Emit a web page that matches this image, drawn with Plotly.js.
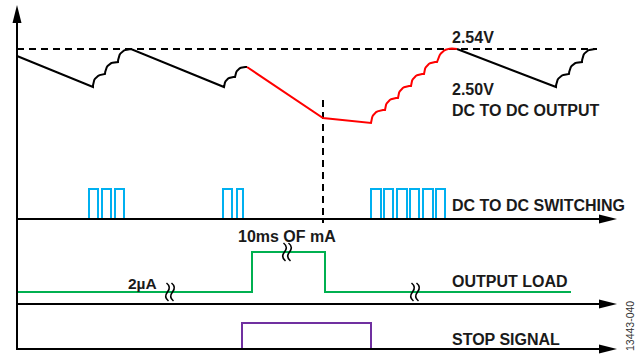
<!DOCTYPE html>
<html><head><meta charset="utf-8">
<script src="https://cdn.plot.ly/plotly-3.0.1.min.js"></script>
<style>html,body{margin:0;padding:0;background:#fff}#chart{width:641px;height:354px}</style>
</head><body><div id="chart"></div>
<script>
// ---- Diagram data (time on x, lane level on y; units = diagram units) ----
// DC-DC output waveform, black part 1 (arc=1 => scalloped recharge segment ending at that vertex)
const outA_t = [17, 93, 105, 118, 131, 224, 235, 247];
const outA_v = [56, 87, 74, 62, 49, 87, 77, 67];
const outA_arc = [0, 0, 1, 1, 1, 0, 1, 1];
// red part (during stop / load)
const outB_t = [247, 323, 371, 385, 398, 411, 424, 437, 457];
const outB_v = [67, 118, 123, 110, 98, 86, 74, 62, 49];
const outB_arc = [0, 0, 0, 1, 1, 1, 1, 1, 1];
// black part 2
const outC_t = [457, 556, 569, 582, 595];
const outC_v = [49, 87, 74, 62, 49];
const outC_arc = [0, 0, 1, 1, 1];
// 2.54V reference level
const refLevel = 49;
// DC-DC switching pulses
const pulseStart = [89, 102, 115, 223, 237, 371, 384, 397, 410, 423, 436];
const pulseEnd   = [98, 111, 124, 232, 243, 381, 393, 407, 419, 433, 445];
const pulseLow = 219, pulseHigh = 189;
// Output load
const load_t = [17, 252, 252, 325, 325, 571];
const load_v = [292, 292, 252, 252, 292, 292];
// Stop signal
const stop_t = [242, 242, 371, 371];
const stop_v = [349, 323, 323, 349];
// Event marker
const eventT = 323;
// Baselines of lanes
const laneBase = [219, 304, 349];
// Labels
const labels = ["2.54V", "2.50V", "DC TO DC OUTPUT", "DC TO DC SWITCHING", "OUTPUT LOAD", "STOP SIGNAL"];
const labelY = [37.5, 89.5, 110.5, 205, 281.5, 339];
const loadLabels = ["10ms OF mA", "2µA"];

// ---- helpers (drawing style only) ----
function scallop(ts, vs, arcs) {
  const X = [ts[0]], Y = [vs[0]];
  for (let i = 1; i < ts.length; i++) {
    if (!arcs[i]) { X.push(ts[i]); Y.push(vs[i]); continue; }
    const x0 = ts[i-1], y0 = vs[i-1], x1 = ts[i], y1 = vs[i];
    const dx = x1 - x0, dy = y1 - y0, L = Math.hypot(dx, dy);
    let nx = dy / L, ny = -dx / L; // up-left normal (y axis reversed)
    const s = 0.24 * L;
    const cx = (x0 + x1) / 2 + nx * 2 * s, cy = (y0 + y1) / 2 + ny * 2 * s;
    for (let k = 1; k <= 12; k++) {
      const u = k / 12;
      X.push((1-u)*(1-u)*x0 + 2*u*(1-u)*cx + u*u*x1);
      Y.push((1-u)*(1-u)*y0 + 2*u*(1-u)*cy + u*u*y1);
    }
  }
  return [X, Y];
}
const A = scallop(outA_t, outA_v, outA_arc);
const B = scallop(outB_t, outB_v, outB_arc);
const C = scallop(outC_t, outC_v, outC_arc);
const px = [], py = [];
pulseStart.forEach((s, i) => {
  px.push(s, s, pulseEnd[i], pulseEnd[i], null);
  py.push(pulseLow, pulseHigh, pulseHigh, pulseLow, null);
});

const F = "Liberation Sans, Arial, sans-serif";
const traces = [
  {x: A[0], y: A[1], mode: 'lines', line: {color: '#000', width: 2}},
  {x: B[0], y: B[1], mode: 'lines', line: {color: '#FF0000', width: 2}},
  {x: C[0], y: C[1], mode: 'lines', line: {color: '#000', width: 2}},
  {x: px, y: py, mode: 'lines', line: {color: '#00B0F0', width: 2}},
  {x: load_t, y: load_v, mode: 'lines', line: {color: '#00B050', width: 2}},
  {x: stop_t, y: stop_v, mode: 'lines', line: {color: '#7030A0', width: 2}}
];

const shapes = [];
// vertical axis + arrow
shapes.push({type: 'line', x0: 17, x1: 17, y0: 350, y1: 20, line: {color: '#000', width: 2}, layer: 'above'});
shapes.push({type: 'path', path: 'M 17 5 L 12.5 23 L 21.5 23 Z', fillcolor: '#000', line: {width: 0}, layer: 'above'});
// horizontal lane axes + arrows
laneBase.forEach(b => {
  shapes.push({type: 'line', x0: 17, x1: 603, y0: b, y1: b, line: {color: '#000', width: 2}, layer: 'above'});
  shapes.push({type: 'path', path: `M 617 ${b} L 599 ${b-4.5} L 599 ${b+4.5} Z`, fillcolor: '#000', line: {width: 0}, layer: 'above'});
});
// dashed 2.54V line
shapes.push({type: 'line', x0: 17, x1: 597, y0: refLevel, y1: refLevel, line: {color: '#000', width: 2, dash: '7px,5px'}, layer: 'below'});
// dashed event marker
shapes.push({type: 'line', x0: eventT, x1: eventT, y0: 100, y1: 223, line: {color: '#000', width: 2, dash: '7px,5px'}, layer: 'below'});
// break marks on load line
[[170, 292], [287, 252], [415, 292]].forEach(([x, y]) => {
  [-2.5, 2.5].forEach(o => {
    const c = x + o;
    shapes.push({type: 'path', path: `M ${c-1} ${y-9} Q ${c+4} ${y-5} ${c} ${y} Q ${c-4} ${y+5} ${c+1} ${y+9}`,
      line: {color: '#000', width: 1.6}, layer: 'above'});
  });
});

const annotations = labels.map((t, i) => ({
  text: t, x: 450, y: labelY[i], xanchor: 'left', yanchor: 'middle', showarrow: false,
  font: {family: F, size: 16, color: '#1a1a1a', weight: 'bold'}
}));
annotations.push({text: loadLabels[0], x: 287, y: 236.5, xanchor: 'center', yanchor: 'middle', showarrow: false,
  font: {family: F, size: 16, color: '#1a1a1a', weight: 'bold'}});
annotations.push({text: loadLabels[1], x: 142, y: 283, xanchor: 'center', yanchor: 'middle', showarrow: false,
  font: {family: F, size: 15.5, color: '#1a1a1a', weight: 'bold'}});
annotations.push({text: "13443-040", x: 630, y: 326, xanchor: 'center', yanchor: 'middle', showarrow: false, textangle: -90,
  font: {family: F, size: 10.5, color: '#333'}});

const layout = {
  width: 641, height: 354, margin: {l: 0, r: 0, t: 0, b: 0},
  paper_bgcolor: '#fff', plot_bgcolor: '#fff', showlegend: false,
  xaxis: {range: [0, 641], visible: false, fixedrange: true},
  yaxis: {range: [354, 0], visible: false, fixedrange: true},
  shapes, annotations
};
Plotly.newPlot('chart', traces, layout, {staticPlot: true, displayModeBar: false});
</script>
</body></html>
